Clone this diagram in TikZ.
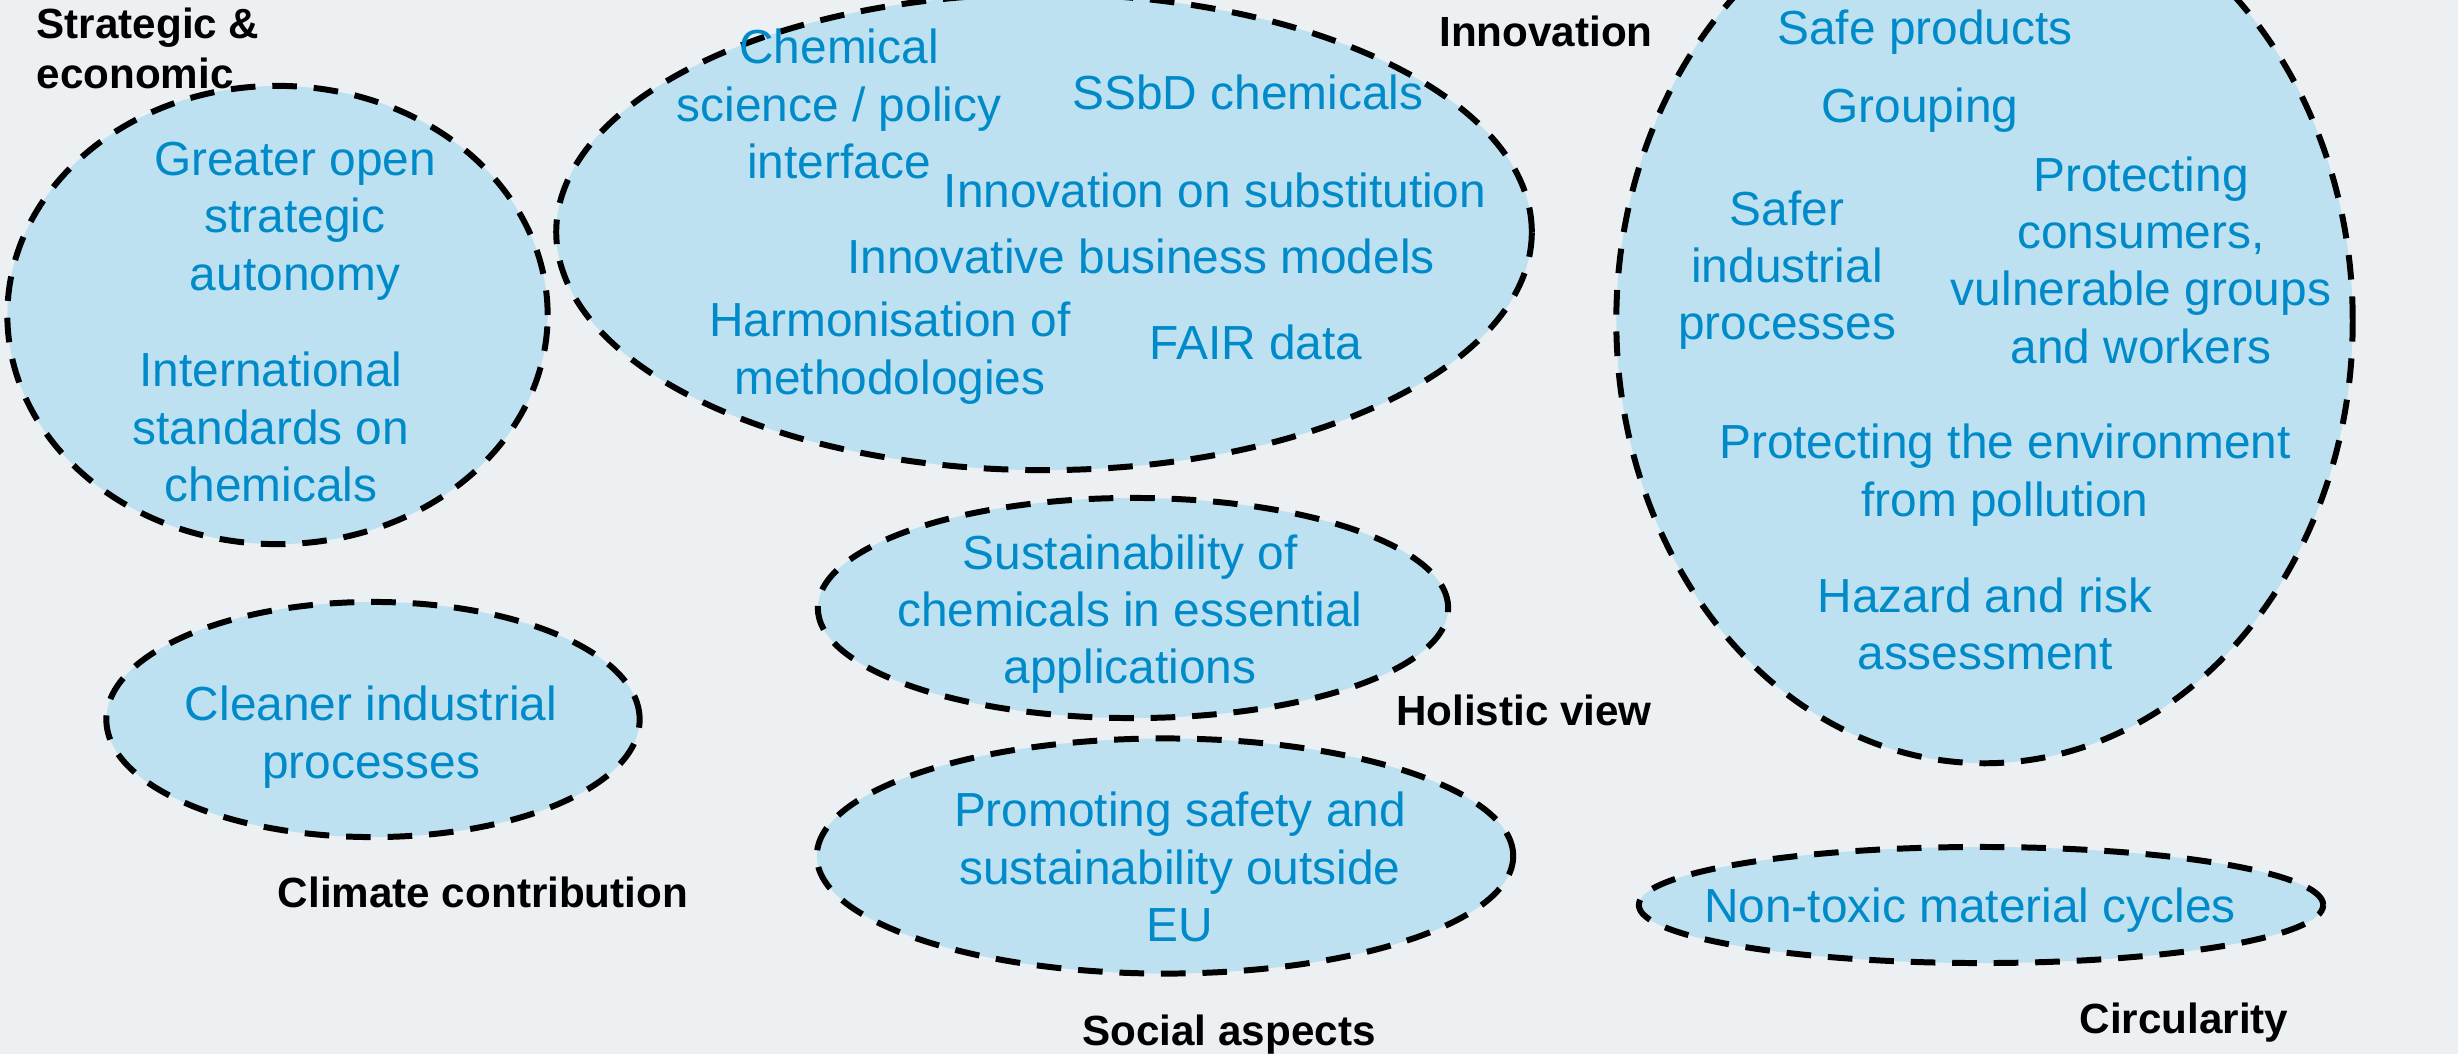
\documentclass[tikz,border=0pt]{standalone}
\usepackage{fontspec}
\setmainfont{Liberation Sans}
\usetikzlibrary{shapes.geometric}
\definecolor{bgcol}{RGB}{236,240,243}
\definecolor{fillblue}{RGB}{189,225,240}
\definecolor{txtblue}{RGB}{0,138,201}
\tikzset{
  grp/.style={ellipse, draw=black, line width=1.7pt, dash pattern=on 7pt off 4.8pt,
              fill=fillblue, inner sep=0pt},
  itm/.style={text=txtblue, font=\fontsize{13.6}{16.3}\selectfont, align=center, inner sep=0pt},
  hdr/.style={font=\bfseries\fontsize{12}{14.3}\selectfont, text=black, inner sep=0pt}
}
\begin{document}
\begin{tikzpicture}[x=0.01cm, y=-0.01cm]
  \fill[bgcol] (0,0) rectangle (2458,1054);
  \useasboundingbox (0,0) rectangle (2458,1054);

  % groups
  \node[grp, minimum width=5.40cm, minimum height=4.58cm] (strat) at (277.5,315) {};
  \node[grp, minimum width=9.75cm, minimum height=4.76cm] (innov) at (1044,232) {};
  \node[grp, minimum width=7.36cm, minimum height=8.84cm] (safe) at (1984.5,321) {};
  \node[grp, minimum width=6.30cm, minimum height=2.20cm] (holis) at (1133,608) {};
  \node[grp, minimum width=5.33cm, minimum height=2.35cm] (clim) at (373,719.5) {};
  \node[grp, minimum width=6.96cm, minimum height=2.35cm] (soc) at (1165,856) {};
  \node[grp, minimum width=6.84cm, minimum height=1.16cm] (circ) at (1981,905) {};

  % group titles
  \node[hdr, align=left, anchor=west] (tstrat) at (36,48.5) {Strategic \&\\economic};
  \node[hdr] (tinnov) at (1546,31) {Innovation};
  \node[hdr] (tholis) at (1524,710) {Holistic view};
  \node[hdr] (tclim) at (483,892) {Climate contribution};
  \node[hdr] (tsoc) at (1229,1035) {Social aspects};
  \node[hdr] (tcirc) at (2184,1023) {Circularity};

  % strategic & economic
  \node[itm] (autonomy) at (295,221) {Greater open\\strategic\\autonomy};
  \node[itm] (standards) at (271,427) {International\\standards on\\chemicals};

  % innovation
  \node[itm] (interface) at (839,104) {Chemical\\science / policy\\interface};
  \node[itm] (ssbd) at (1248,92) {SSbD chemicals};
  \node[itm] (subst) at (1215,190) {Innovation on substitution};
  \node[itm] (business) at (1141,256) {Innovative business models};
  \node[itm] (harmon) at (890,353) {Harmonisation of\\methodologies};
  \node[itm] (fair) at (1256,342) {FAIR data};

  % safety
  \node[itm] (products) at (1925,32) {Safe products};
  \node[itm] (grouping) at (1920,110) {Grouping};
  \node[itm] (saferproc) at (1787,270) {Safer\\industrial\\processes};
  \node[itm] (consumers) at (2141,260) {Protecting\\consumers,\\vulnerable groups\\and workers};
  \node[itm] (environment) at (2005,475) {Protecting the environment\\from pollution};
  \node[itm] (hazard) at (1985,624) {Hazard and risk\\assessment};

  % holistic view
  \node[itm] (essential) at (1130,614) {Sustainability of\\chemicals in essential\\applications};

  % climate
  \node[itm] (cleaner) at (371,737) {Cleaner industrial\\processes};

  % social
  \node[itm] (outside) at (1180,867) {Promoting safety and\\sustainability outside\\EU};

  % circularity
  \node[itm] (cycles) at (1970,910) {Non-toxic material cycles};
\end{tikzpicture}
\end{document}
